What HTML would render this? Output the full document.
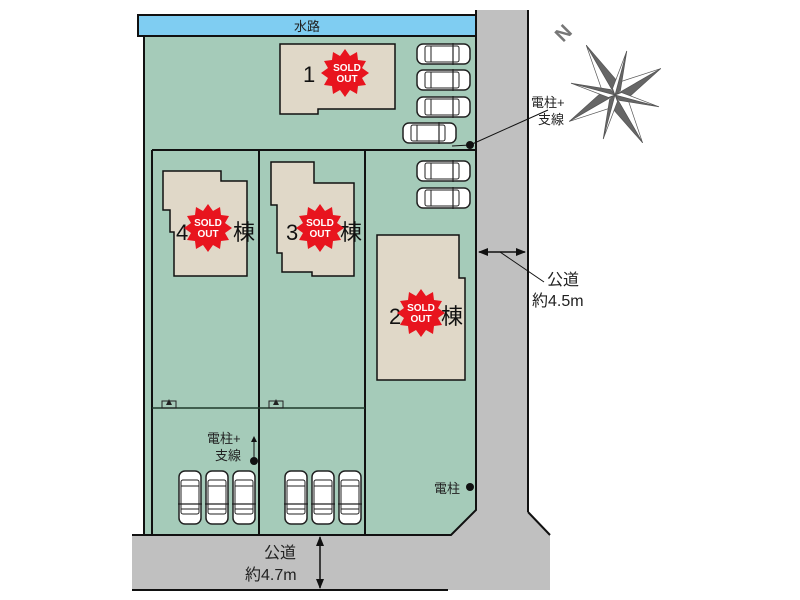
<!DOCTYPE html>
<html><head><meta charset="utf-8"><style>
html,body{margin:0;padding:0;background:#fff;width:800px;height:600px;overflow:hidden}
text{font-family:"Liberation Sans","Noto Sans CJK JP",sans-serif}
</style></head><body>
<svg width="800" height="600" viewBox="0 0 800 600" xmlns="http://www.w3.org/2000/svg">
<defs>
<g id="carh">
<rect x="0" y="0" width="53" height="20" rx="6" fill="#fff" stroke="#222" stroke-width="1.5"/>
<rect x="8" y="2" width="34" height="16" rx="2" fill="none" stroke="#222" stroke-width="1"/>
<line x1="14" y1="2" x2="14" y2="18" stroke="#222"/>
<line x1="36" y1="2" x2="36" y2="18" stroke="#222"/>
<line x1="36" y1="-1" x2="36" y2="21" stroke="#222" stroke-width="1.2"/>
</g>
<g id="carv">
<rect x="0" y="0" width="22" height="53" rx="6" fill="#fff" stroke="#222" stroke-width="1.5"/>
<rect x="2" y="9" width="18" height="34" rx="2" fill="none" stroke="#222" stroke-width="1"/>
<line x1="2" y1="15" x2="20" y2="15" stroke="#222"/>
<line x1="2" y1="38" x2="20" y2="38" stroke="#222"/>
<line x1="-1" y1="33" x2="23" y2="33" stroke="#222" stroke-width="1.2"/>
</g>
<polygon id="burst" points="0,-24 5,-17 12,-21 13,-13 21,-12 17,-5 24,0 17,5 21,12 13,13 12,21 5,17 0,24 -5,17 -12,21 -13,13 -21,12 -17,5 -24,0 -17,-5 -21,-12 -13,-13 -12,-21 -5,-17" fill="#e8141e"/>
</defs>
<!-- roads -->
<polygon points="476,10 528,10 528,512 550,535 550,590 132,590 132,535 451,535 476,510" fill="#c0c0c0"/>
<line x1="528" y1="10" x2="528" y2="512" stroke="#111" stroke-width="2"/>
<line x1="528" y1="512" x2="550" y2="535" stroke="#111" stroke-width="2"/>
<line x1="132" y1="590" x2="448" y2="590" stroke="#111" stroke-width="2"/>
<!-- water -->
<rect x="138" y="15" width="338" height="21" fill="#7fcdf2" stroke="#111" stroke-width="2"/>
<text x="307" y="31" font-size="13" text-anchor="middle" fill="#222">水路</text>
<!-- site -->
<polygon points="144,36 476,36 476,510 451,535 144,535" fill="#a5cbb9" stroke="#111" stroke-width="2"/>
<line x1="476" y1="10" x2="476" y2="510" stroke="#111" stroke-width="2"/>
<line x1="132" y1="535" x2="451" y2="535" stroke="#111" stroke-width="2"/>
<line x1="152" y1="150" x2="476" y2="150" stroke="#111" stroke-width="2"/>
<line x1="152" y1="150" x2="152" y2="535" stroke="#111" stroke-width="2"/>
<line x1="259" y1="150" x2="259" y2="535" stroke="#111" stroke-width="2"/>
<line x1="365" y1="150" x2="365" y2="535" stroke="#111" stroke-width="2"/>
<line x1="152" y1="408" x2="365" y2="408" stroke="#1e3a2a" stroke-width="1.5"/>
<g fill="none" stroke="#222" stroke-width="1"><rect x="162" y="401" width="14" height="7"/><rect x="269" y="401" width="14" height="7"/></g>
<polygon points="169,399 166,405 172,405" fill="#222"/><polygon points="276,399 273,405 279,405" fill="#222"/>
<!-- buildings -->
<g fill="#e0d8c8" stroke="#111" stroke-width="1.5">
<polygon points="280,44 395,44 395,109 318,109 318,114 280,114"/>
<polygon points="163,171 221,171 221,181 247,181 247,276 174,276 174,232 170,232 170,210 163,210"/>
<polygon points="271,162 314,162 314,183 354,183 354,276 312,276 312,272 282,272 282,253 277,253 277,205 271,205"/>
<polygon points="377,235 459,235 459,278 465,278 465,380 377,380"/>
</g>
<g font-size="22" fill="#111">
<text x="303" y="82">1</text><text x="176" y="240">4</text><text x="233" y="240">棟</text>
<text x="286" y="240">3</text><text x="340" y="240">棟</text>
<text x="389" y="324">2</text><text x="441" y="324">棟</text>
</g>
<g font-size="10" font-weight="bold" fill="#fff" text-anchor="middle">
<use href="#burst" x="345" y="73"/><text x="347" y="71">SOLD</text><text x="347" y="82">OUT</text>
<use href="#burst" x="208" y="228"/><text x="208" y="226">SOLD</text><text x="208" y="237">OUT</text>
<use href="#burst" x="320" y="228"/><text x="320" y="226">SOLD</text><text x="320" y="237">OUT</text>
<use href="#burst" x="421" y="313"/><text x="421" y="311">SOLD</text><text x="421" y="322">OUT</text>
</g>
<!-- cars -->
<use href="#carh" x="417" y="44"/><use href="#carh" x="417" y="70"/><use href="#carh" x="417" y="97"/>
<use href="#carh" x="403" y="123"/><use href="#carh" x="417" y="161"/><use href="#carh" x="417" y="188"/>
<use href="#carv" x="179" y="471"/><use href="#carv" x="206" y="471"/><use href="#carv" x="233" y="471"/>
<use href="#carv" x="285" y="471"/><use href="#carv" x="312" y="471"/><use href="#carv" x="339" y="471"/>
<!-- poles -->
<circle cx="470" cy="145" r="4" fill="#111"/>
<line x1="470" y1="145" x2="452" y2="146" stroke="#111"/>
<line x1="470" y1="145" x2="548" y2="110" stroke="#111"/>
<circle cx="254" cy="461" r="4" fill="#111"/>
<line x1="254" y1="461" x2="254" y2="440" stroke="#111"/>
<polygon points="254,436 251,442 257,442" fill="#111"/>
<circle cx="470" cy="487" r="4" fill="#111"/>
<g font-size="13" fill="#222">
<text x="531" y="107">電柱+</text><text x="538" y="124">支線</text>
<text x="207" y="443">電柱+</text><text x="215" y="460">支線</text>
<text x="434" y="493">電柱</text>
</g>
<!-- dims -->
<line x1="479" y1="252" x2="525" y2="252" stroke="#111" stroke-width="1.5"/>
<polygon points="478,252 488,248 488,256" fill="#111"/><polygon points="526,252 516,248 516,256" fill="#111"/>
<line x1="500" y1="252" x2="544" y2="282" stroke="#111"/>
<text x="547" y="285" font-size="16" fill="#222">公道</text>
<text x="532" y="306" font-size="16" fill="#222">約4.5m</text>
<line x1="320" y1="537" x2="320" y2="588" stroke="#111" stroke-width="1.5"/>
<polygon points="320,536 316,546 324,546" fill="#111"/><polygon points="320,589 316,579 324,579" fill="#111"/>
<text x="264" y="558" font-size="16" fill="#222">公道</text>
<text x="245" y="580" font-size="16" fill="#222">約4.7m</text>
<!-- compass -->
<g transform="translate(615,95) rotate(-30) scale(1.15)" fill="#666" stroke="#555" stroke-width="0.6">
<polygon points="0,-50 8,-8 0,0"/><polygon points="0,-50 -8,-8 0,0" fill="#fff"/>
<polygon points="0,48 8,8 0,0" fill="#fff"/><polygon points="0,48 -8,8 0,0"/>
<polygon points="46,0 8,8 0,0"/><polygon points="46,0 8,-8 0,0" fill="#fff"/>
<polygon points="-46,0 -8,-8 0,0"/><polygon points="-46,0 -8,8 0,0" fill="#fff"/>
<polygon points="28,-28 6,-1 0,0"/><polygon points="28,-28 1,-6 0,0" fill="#fff"/>
<polygon points="-28,28 -6,1 0,0"/><polygon points="-28,28 -1,6 0,0" fill="#fff"/>
<polygon points="28,28 1,6 0,0"/><polygon points="28,28 6,1 0,0" fill="#fff"/>
<polygon points="-28,-28 -1,-6 0,0"/><polygon points="-28,-28 -6,-1 0,0" fill="#fff"/>
</g>
<text x="0" y="0" font-size="20" font-weight="bold" fill="#777" transform="translate(563,43) rotate(-45)">N</text>
</svg>
</body></html>
